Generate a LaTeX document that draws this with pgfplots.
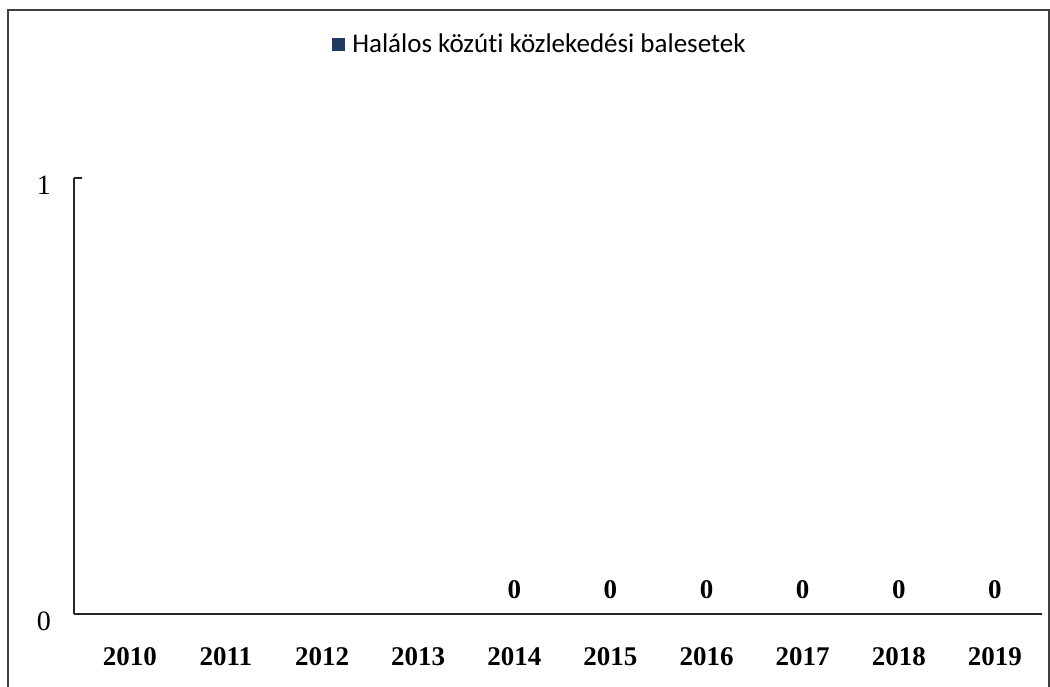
\documentclass[border=0pt]{standalone}
\usepackage{fontspec}
\setmainfont{Liberation Serif}
\newfontfamily\legendfont[Ligatures={NoCommon}]{Carlito}
\usepackage{pgfplots}
\pgfplotsset{compat=1.18}
\definecolor{barnavy}{HTML}{1F3A60}
\begin{document}
\begin{tikzpicture}[x=0.5pt,y=0.5pt]
\useasboundingbox (0,0) rectangle (1050,686);
\draw[line width=0.8pt,black!75] (8,-20) -- (8,676) -- (1049,676) -- (1049,-20);
\begin{axis}[
  at={(74pt*0.5,72pt*0.5)}, anchor=south west,
  scale only axis,
  width=484pt, height=218pt,
  xmin=-0.58, xmax=9.49,
  ymin=0, ymax=1,
  axis lines*=left,
  axis line style={line width=0.9pt, black!85},
  xtick={0,...,9},
  xticklabels={2010,2011,2012,2013,2014,2015,2016,2017,2018,2019},
  x tick style={draw=none},
  xticklabel style={font=\fontsize{13.5}{15}\selectfont\bfseries, yshift=-9pt},
  ytick={0,1},
  yticklabels={0,1},
  y tick style={black!85, line width=0.8pt},
  tick align=inside,
  major tick length=4pt,
  yticklabel style={font=\fontsize{14}{16}\selectfont, yshift=-3.5pt, xshift=-8pt},
  /pgf/number format/assume math mode=true,
  ybar, bar width=20pt,
  nodes near coords,
  nodes near coords style={font=\fontsize{13.5}{15}\selectfont\bfseries, yshift=4pt},
  legend style={at={(0.4824,1.305)}, anchor=center,
    draw=none, fill=none, font=\legendfont\fontsize{13.5}{15}\selectfont,
    legend cell align=left},
  legend image code/.code={\fill[barnavy] (0cm,-0.11cm) rectangle (0.22cm,0.13cm); \path (0.28cm,0);},
  clip=false,
]
\addplot[fill=barnavy, draw=none] coordinates {(4,0) (5,0) (6,0) (7,0) (8,0) (9,0)};
\addlegendentry{Halálos közúti közlekedési balesetek}
\end{axis}
\end{tikzpicture}
\end{document}
